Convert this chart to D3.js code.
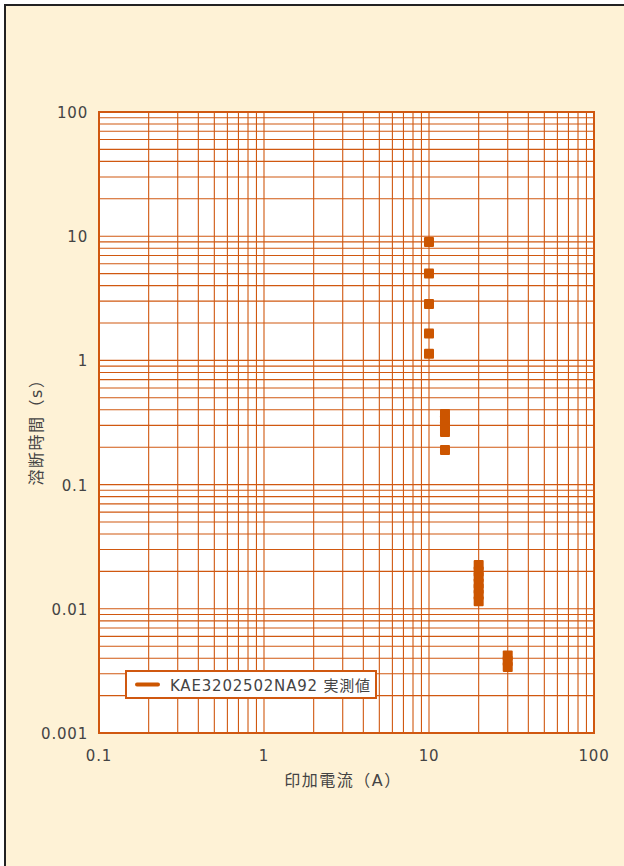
<!DOCTYPE html>
<html>
<head>
<meta charset="utf-8">
<script src="https://cdn.jsdelivr.net/npm/d3@7"></script>
<style>
  html, body { margin: 0; padding: 0; background: #fff; }
  svg { display: block; }
  text { font-family: "DejaVu Sans", "Noto Sans CJK JP", sans-serif; fill: #444; }
</style>
</head>
<body>
<svg id="chart" width="624" height="866"></svg>
<script>
// measured points (current A, melting time s)
const currents = [10, 10, 10, 10, 10,
                  12.5, 12.5, 12.5, 12.5, 12.5,
                  20, 20, 20, 20, 20, 20, 20,
                  30, 30, 30];
const times = [9.0, 5.0, 2.85, 1.65, 1.13,
               0.37, 0.33, 0.295, 0.265, 0.19,
               0.0225, 0.02, 0.018, 0.016, 0.0145, 0.013, 0.0115,
               0.0042, 0.0038, 0.0034];

const xTickLabels = ['0.1', '1', '10', '100'];
const yTickLabels = ['0.001', '0.01', '0.1', '1', '10', '100'];
const seriesName = 'KAE3202502NA92 実測値';
const xTitle = '印加電流（A）';
const yTitle = '溶断時間（s）';

const orange = '#d05810';
const markColor = '#cc5500';

const svg = d3.select('#chart');

// background frame
svg.append('rect')
  .attr('x', 5).attr('y', 5)
  .attr('width', 680).attr('height', 900)
  .attr('fill', '#fef2d6')
  .attr('stroke', '#222')
  .attr('stroke-width', 2);

const margin = { left: 99, top: 112, right: 594, bottom: 733 };

const x = d3.scaleLog().domain([0.1, 100]).range([margin.left, margin.right]);
const y = d3.scaleLog().domain([0.001, 100]).range([margin.bottom, margin.top]);

svg.append('rect')
  .attr('x', margin.left).attr('y', margin.top)
  .attr('width', margin.right - margin.left)
  .attr('height', margin.bottom - margin.top)
  .attr('fill', '#fff');

// grid: every 1..9 of each decade
const xGrid = x.ticks(30);
const yGrid = y.ticks(50);

svg.append('g').selectAll('line')
  .data(xGrid)
  .join('line')
  .attr('x1', d => x(d)).attr('x2', d => x(d))
  .attr('y1', margin.top).attr('y2', margin.bottom)
  .attr('stroke', orange)
  .attr('stroke-width', 1.1);

svg.append('g').selectAll('line')
  .data(yGrid)
  .join('line')
  .attr('x1', margin.left).attr('x2', margin.right)
  .attr('y1', d => y(d)).attr('y2', d => y(d))
  .attr('stroke', orange)
  .attr('stroke-width', 1.1);

// plot border
svg.append('rect')
  .attr('x', margin.left).attr('y', margin.top)
  .attr('width', margin.right - margin.left)
  .attr('height', margin.bottom - margin.top)
  .attr('fill', 'none')
  .attr('stroke', orange)
  .attr('stroke-width', 2);

// tick labels
const xDecades = [0.1, 1, 10, 100];
svg.append('g').selectAll('text')
  .data(xDecades)
  .join('text')
  .attr('x', d => x(d))
  .attr('y', 761)
  .attr('text-anchor', 'middle')
  .style('font-size', '15px')
  .style('letter-spacing', '0.8px')
  .text((d, i) => xTickLabels[i]);

const yDecades = [0.001, 0.01, 0.1, 1, 10, 100];
svg.append('g').selectAll('text')
  .data(yDecades)
  .join('text')
  .attr('x', 88)
  .attr('y', d => y(d) + 6)
  .attr('text-anchor', 'end')
  .style('font-size', '15px')
  .style('letter-spacing', '0.8px')
  .text((d, i) => yTickLabels[i]);

// axis titles
svg.append('text')
  .attr('x', 343).attr('y', 786)
  .attr('text-anchor', 'middle')
  .style('font-size', '16px')
  .style('letter-spacing', '1.5px')
  .text(xTitle);

svg.append('text')
  .attr('transform', 'translate(42,428) rotate(-90)')
  .attr('text-anchor', 'middle')
  .style('font-size', '16px')
  .style('letter-spacing', '1.5px')
  .text(yTitle);

// data markers
svg.append('g').selectAll('rect')
  .data(currents.map((c, i) => [c, times[i]]))
  .join('rect')
  .attr('x', d => x(d[0]) - 5)
  .attr('y', d => y(d[1]) - 5)
  .attr('width', 10).attr('height', 10)
  .attr('rx', 1)
  .attr('fill', markColor);

// legend
const lg = svg.append('g');
lg.append('rect')
  .attr('x', 126).attr('y', 671)
  .attr('width', 250).attr('height', 27)
  .attr('fill', '#fff')
  .attr('stroke', orange)
  .attr('stroke-width', 2);
lg.append('line')
  .attr('x1', 137).attr('x2', 158)
  .attr('y1', 684.5).attr('y2', 684.5)
  .attr('stroke', markColor)
  .attr('stroke-width', 4)
  .attr('stroke-linecap', 'round');
lg.append('text')
  .attr('x', 170).attr('y', 691)
  .style('font-size', '15px')
  .style('letter-spacing', '0.8px')
  .text(seriesName);
</script>
</body>
</html>
